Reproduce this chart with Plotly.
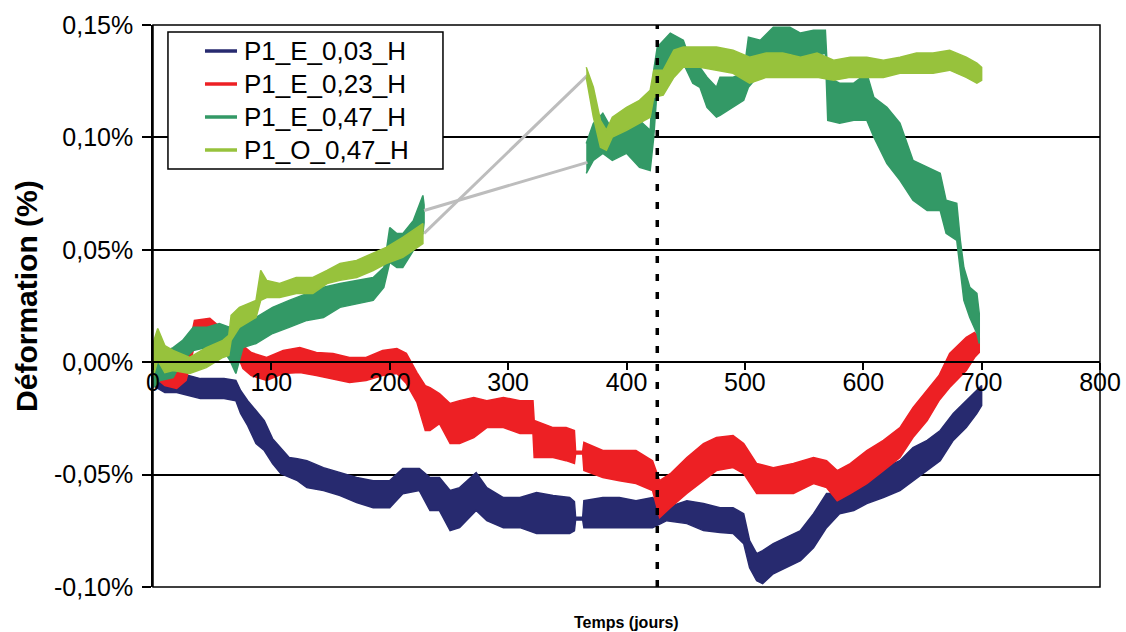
import plotly.graph_objects as go

# ---------------- data (days, strain in %) ----------------
# Each noisy record is given by its upper / lower envelope.
navy_days = [0, 10, 20, 30, 40, 50, 60, 70, 74, 80, 87, 94, 101, 108, 115, 122, 130, 144, 158, 172,
             186, 200, 211, 225, 234, 242, 251, 259, 273, 282, 296, 310, 324, 338, 352, 356, 357, 363,
             364, 380, 394, 408, 422, 434, 451, 465, 479, 490, 499, 504, 510, 515, 524, 535, 547, 558,
             569, 580, 592, 603, 617, 631, 642, 654, 665, 676, 687, 696, 700]
navy_hi = [-0.0015, -0.0059, -0.0073, -0.0059, -0.0073, -0.0073, -0.0073, -0.0081, -0.0126, -0.0171,
           -0.0215, -0.0260, -0.0340, -0.0380, -0.0424, -0.0429, -0.0438, -0.0469, -0.0491, -0.0513,
           -0.0527, -0.0527, -0.0473, -0.0473, -0.0513, -0.0513, -0.0571, -0.0558, -0.0491, -0.0558,
           -0.0602, -0.0602, -0.0580, -0.0593, -0.0602, -0.0620, -0.0690, -0.0690, -0.0616, -0.0602,
           -0.0602, -0.0616, -0.0602, -0.0646, -0.0616, -0.0629, -0.0647, -0.0647, -0.0674, -0.0794,
           -0.0852, -0.0838, -0.0807, -0.0780, -0.0749, -0.0674, -0.0584, -0.0584, -0.0558, -0.0527,
           -0.0469, -0.0438, -0.0380, -0.0348, -0.0304, -0.0228, -0.0171, -0.0126, -0.0104]
navy_lo = [-0.0104, -0.0135, -0.0135, -0.0148, -0.0162, -0.0162, -0.0162, -0.0171, -0.0228, -0.0282,
           -0.0362, -0.0393, -0.0451, -0.0496, -0.0513, -0.0527, -0.0558, -0.0571, -0.0593, -0.0624,
           -0.0647, -0.0647, -0.0585, -0.0571, -0.0660, -0.0660, -0.0749, -0.0736, -0.0660, -0.0705,
           -0.0736, -0.0736, -0.0762, -0.0762, -0.0762, -0.0750, -0.0702, -0.0702, -0.0736, -0.0736,
           -0.0736, -0.0736, -0.0736, -0.0705, -0.0718, -0.0749, -0.0758, -0.0762, -0.0807, -0.0914,
           -0.0972, -0.0985, -0.0941, -0.0914, -0.0883, -0.0825, -0.0736, -0.0674, -0.0660, -0.0629,
           -0.0602, -0.0571, -0.0527, -0.0482, -0.0438, -0.0348, -0.0291, -0.0228, -0.0193]

red_days = [0, 10, 20, 28, 35, 48, 55, 68, 76, 83, 96, 110, 124, 138, 152, 166, 180, 194, 206, 214,
            223, 230, 234, 242, 251, 259, 271, 282, 296, 310, 321, 322, 338, 349, 356, 357, 363, 364,
            380, 394, 408, 422, 428, 437, 451, 465, 476, 490, 499, 510, 524, 541, 558, 569, 578, 589,
            603, 617, 631, 642, 654, 664, 673, 687, 694, 698]
red_hi = [0.0030, -0.0028, -0.0037, 0.0008, 0.0186, 0.0195, 0.0164, 0.0141, 0.0074, 0.0043, 0.0021,
          0.0052, 0.0065, 0.0043, 0.0039, 0.0021, 0.0021, 0.0052, 0.0061, 0.0039, -0.0046, -0.0104,
          -0.0113, -0.0140, -0.0184, -0.0171, -0.0157, -0.0171, -0.0157, -0.0171, -0.0171, -0.0259,
          -0.0291, -0.0291, -0.0304, -0.0396, -0.0396, -0.0357, -0.0393, -0.0393, -0.0393, -0.0438,
          -0.0527, -0.0496, -0.0424, -0.0362, -0.0335, -0.0326, -0.0362, -0.0451, -0.0469, -0.0451,
          -0.0424, -0.0438, -0.0482, -0.0451, -0.0393, -0.0348, -0.0291, -0.0202, -0.0126, -0.0059,
          0.0039, 0.0110, 0.0132, 0.0110]
red_lo = [-0.0059, -0.0104, -0.0117, -0.0081, 0.0074, 0.0097, 0.0052, 0.0074, -0.0028, -0.0059, -0.0081,
          -0.0050, -0.0046, -0.0059, -0.0073, -0.0090, -0.0081, -0.0059, -0.0050, -0.0095, -0.0179,
          -0.0304, -0.0304, -0.0273, -0.0362, -0.0362, -0.0335, -0.0291, -0.0291, -0.0317, -0.0317,
          -0.0424, -0.0424, -0.0438, -0.0451, -0.0408, -0.0408, -0.0482, -0.0513, -0.0527, -0.0540,
          -0.0571, -0.0691, -0.0647, -0.0584, -0.0527, -0.0482, -0.0469, -0.0496, -0.0584, -0.0584,
          -0.0584, -0.0540, -0.0558, -0.0616, -0.0584, -0.0540, -0.0482, -0.0424, -0.0335, -0.0260,
          -0.0171, -0.0113, -0.0037, 0.0021, 0.0043]

dg1_days = [0, 6, 17, 25, 34, 45, 56, 65, 70, 76, 87, 101, 115, 130, 144, 158, 172, 186, 195, 200,
            206, 211, 220, 228, 229]
dg1_hi = [0.0083, 0.0039, 0.0065, 0.0097, 0.0155, 0.0155, 0.0172, 0.0155, 0.0141, 0.0186, 0.0199,
          0.0244, 0.0275, 0.0306, 0.0333, 0.0350, 0.0364, 0.0377, 0.0421, 0.0599, 0.0572, 0.0572,
          0.0631, 0.0742, 0.0700]
dg1_lo = [-0.0113, -0.0081, -0.0068, 0.0008, 0.0052, 0.0065, 0.0083, 0.0008, -0.0050, 0.0065, 0.0083,
          0.0128, 0.0155, 0.0186, 0.0199, 0.0244, 0.0261, 0.0275, 0.0333, 0.0444, 0.0421, 0.0421,
          0.0497, 0.0572, 0.0620]

dg2_days = [366, 372, 380, 388, 400, 411, 420, 423, 426, 437, 448, 456, 462, 468, 476, 479, 490, 499,
            503, 513, 524, 538, 547, 558, 568, 570, 580, 592, 603, 609, 620, 631, 642, 654, 665, 670,
            679, 682, 685, 690, 696, 698]
dg2_hi = [0.0973, 0.1062, 0.1107, 0.1032, 0.1045, 0.1076, 0.1032, 0.1299, 0.1402, 0.1464, 0.1432,
          0.1312, 0.1312, 0.1268, 0.1223, 0.1268, 0.1268, 0.1285, 0.1446, 0.1432, 0.1490, 0.1490,
          0.1464, 0.1477, 0.1477, 0.1268, 0.1241, 0.1241, 0.1285, 0.1178, 0.1134, 0.1063, 0.0898,
          0.0867, 0.0840, 0.0720, 0.0707, 0.0542, 0.0421, 0.0333, 0.0306, 0.0217]
dg2_lo = [0.0840, 0.0898, 0.0929, 0.0898, 0.0929, 0.0867, 0.0853, 0.1001, 0.1223, 0.1286, 0.1330,
          0.1241, 0.1223, 0.1134, 0.1090, 0.1098, 0.1134, 0.1165, 0.1223, 0.1285, 0.1357, 0.1375,
          0.1344, 0.1357, 0.1375, 0.1076, 0.1063, 0.1076, 0.1076, 0.1001, 0.0884, 0.0809, 0.0720,
          0.0675, 0.0675, 0.0573, 0.0542, 0.0421, 0.0275, 0.0199, 0.0128, 0.0083]

lg1_days = [0, 4, 10, 17, 31, 45, 59, 64, 66, 73, 87, 91, 96, 107, 121, 135, 147, 158, 172, 186, 197,
            211, 228]
lg1_hi = [0.0083, 0.0150, 0.0074, 0.0052, 0.0021, 0.0065, 0.0097, 0.0119, 0.0208, 0.0244, 0.0275,
          0.0408, 0.0364, 0.0350, 0.0377, 0.0377, 0.0408, 0.0439, 0.0453, 0.0484, 0.0511, 0.0555, 0.0617]
lg1_lo = [-0.0068, 0.0008, -0.0046, -0.0037, -0.0050, -0.0024, 0.0021, 0.0030, 0.0097, 0.0155, 0.0199,
          0.0275, 0.0288, 0.0288, 0.0306, 0.0306, 0.0350, 0.0364, 0.0377, 0.0408, 0.0439, 0.0466, 0.0528]

lg2_days = [366, 372, 378, 383, 388, 400, 411, 420, 423, 431, 440, 448, 462, 476, 490, 504, 518, 532,
            547, 561, 575, 589, 603, 617, 631, 645, 659, 673, 687, 696, 700]
lg2_hi = [0.1312, 0.1223, 0.1076, 0.1032, 0.1090, 0.1134, 0.1165, 0.1210, 0.1299, 0.1299, 0.1388,
          0.1402, 0.1402, 0.1402, 0.1388, 0.1357, 0.1375, 0.1375, 0.1357, 0.1375, 0.1343, 0.1357,
          0.1357, 0.1343, 0.1357, 0.1375, 0.1375, 0.1388, 0.1357, 0.1330, 0.1312]
lg2_lo = [0.1267, 0.1090, 0.0956, 0.0943, 0.1001, 0.1032, 0.1063, 0.1090, 0.1178, 0.1188, 0.1267,
          0.1312, 0.1312, 0.1299, 0.1285, 0.1241, 0.1267, 0.1267, 0.1267, 0.1267, 0.1254, 0.1267,
          0.1267, 0.1267, 0.1285, 0.1285, 0.1285, 0.1299, 0.1267, 0.1241, 0.1254]

# grey segments bridging the data gap of the two 0,47 gauges
gap_days = [229, 367]
dg_gap = [0.0675, 0.0889]
lg_gap = [0.0573, 0.1276]

event_day = 426

series_names = ["P1_E_0,03_H", "P1_E_0,23_H", "P1_E_0,47_H", "P1_O_0,47_H"]
series_colors = ["#272A6F", "#ED2024", "#339966", "#97C23C"]

x_ticks = [0, 100, 200, 300, 400, 500, 600, 700, 800]
y_ticks = [-0.10, -0.05, 0.0, 0.05, 0.10, 0.15]
y_ticktext = ["-0,10%", "-0,05%", "0,00%", "0,05%", "0,10%", "0,15%"]

FONT = "Arial, 'Liberation Sans', sans-serif"

fig = go.Figure()


def band(days, hi, lo, color):
    fig.add_trace(go.Scatter(
        x=days + days[::-1], y=hi + lo[::-1], mode="lines", fill="toself",
        fillcolor=color, line=dict(color=color, width=1.5),
        hoverinfo="skip", showlegend=False))


band(navy_days, navy_hi, navy_lo, series_colors[0])
band(red_days, red_hi, red_lo, series_colors[1])
band(dg1_days, dg1_hi, dg1_lo, series_colors[2])
band(dg2_days, dg2_hi, dg2_lo, series_colors[2])
fig.add_trace(go.Scatter(x=gap_days, y=dg_gap, mode="lines",
                         line=dict(color="#BDBDBD", width=3), showlegend=False, hoverinfo="skip"))
fig.add_trace(go.Scatter(x=gap_days, y=lg_gap, mode="lines",
                         line=dict(color="#BDBDBD", width=3), showlegend=False, hoverinfo="skip"))
band(lg1_days, lg1_hi, lg1_lo, series_colors[3])
band(lg2_days, lg2_hi, lg2_lo, series_colors[3])

fig.update_layout(
    width=1126, height=632,
    margin=dict(l=153, r=26, t=25, b=45),
    paper_bgcolor="white", plot_bgcolor="white",
    font=dict(family=FONT, color="black", size=25),
    xaxis=dict(range=[0, 800], tickvals=x_ticks, anchor="free", position=0.4,
               showline=True, linecolor="black", linewidth=1.5,
               ticks="outside", ticklen=7, tickcolor="black", tickwidth=1.5,
               ticklabelstandoff=-9, automargin=False,
               showgrid=False, zeroline=False, tickfont=dict(size=25)),
    yaxis=dict(range=[-0.10, 0.15], tickvals=y_ticks, ticktext=y_ticktext,
               showgrid=True, gridcolor="black", gridwidth=1.5, zeroline=False,
               showline=True, linecolor="black", linewidth=1.5,
               ticks="outside", ticklen=9, tickcolor="black", tickwidth=1.5,
               ticklabelstandoff=4, tickfont=dict(size=25), automargin=False),
    showlegend=False,
)

# border of the plot area
fig.add_shape(type="rect", xref="paper", yref="paper", x0=0, x1=1, y0=0, y1=1,
              line=dict(color="black", width=1.5), layer="above")
# event marker
fig.add_shape(type="line", xref="x", yref="y", x0=event_day, x1=event_day, y0=-0.10, y1=0.15,
              line=dict(color="black", width=3.5, dash="7px,11px"), layer="above")

# legend box drawn by hand (position in plot-area fractions)
legend_rows = [0.9537, 0.8950, 0.8363, 0.7776]
fig.add_shape(type="rect", xref="paper", yref="paper", x0=0.0158, x1=0.3062, y0=0.7438, y1=0.9875,
              line=dict(color="black", width=1.5), fillcolor="white", layer="above")
for name, color, ry in zip(series_names, series_colors, legend_rows):
    fig.add_shape(type="line", xref="paper", yref="paper", x0=0.0549, x1=0.0887, y0=ry, y1=ry,
                  line=dict(color=color, width=3.5), layer="above")
    fig.add_annotation(text=name, xref="paper", yref="paper", x=0.0945, y=ry,
                       xanchor="left", yanchor="middle", showarrow=False,
                       font=dict(size=26, color="black"))

# axis titles
fig.add_annotation(text="<b>Déformation (%)</b>", xref="paper", yref="paper", x=-0.133, y=0.518,
                   xanchor="center", yanchor="middle", textangle=-90, showarrow=False,
                   font=dict(size=30))
fig.add_annotation(text="<b>Temps (jours)</b>", xref="paper", yref="paper", x=0.4995, y=-0.064,
                   xanchor="center", yanchor="middle", showarrow=False, font=dict(size=16))

# the default page has an 8px body margin; remove it so the figure fills the window exactly
fig.write_html("out.html", config={"displayModeBar": False},
               post_script="document.body.style.margin='0';")
